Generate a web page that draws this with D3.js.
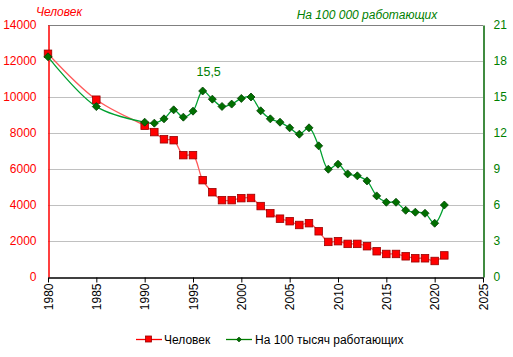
<!DOCTYPE html>
<html><head><meta charset="utf-8">
<script src="https://cdn.jsdelivr.net/npm/d3@7"></script>
<style>body{margin:0;background:#fff}svg{font-family:"Liberation Sans",Arial,sans-serif}</style>
</head><body><svg id="c" width="513" height="357"></svg>
<script>
const years = [1980,1985,1990,1991,1992,1993,1994,1995,1996,1997,1998,1999,2000,2001,2002,2003,2004,2005,2006,2007,2008,2009,2010,2011,2012,2013,2014,2015,2016,2017,2018,2019,2020,2021];
const people = [12400,9850,8400,8050,7650,7600,6770,6770,5380,4710,4270,4270,4380,4390,3940,3540,3240,3100,2890,2990,2540,1950,1990,1840,1840,1710,1430,1280,1280,1150,1040,1040,890,1200];
const per100k = [18.35,14.2,12.9,12.82,13.18,13.93,13.32,13.82,15.5,14.82,14.21,14.41,14.88,15.0,13.85,13.18,12.9,12.43,11.9,12.43,10.93,8.98,9.4,8.59,8.43,8.01,6.76,6.23,6.23,5.56,5.4,5.31,4.48,6.0];
const xTicks = [1980,1985,1990,1995,2000,2005,2010,2015,2020,2025];
const leftTicks = [0,2000,4000,6000,8000,10000,12000,14000];
const rightTicks = [0,3,6,9,12,15,18,21];
const leftTitle = "Человек";
const rightTitle = "На 100 000 работающих";
const legendNames = ["Человек","На 100 тысяч работающих"];
const annotation = {year:1996, value:15.5, text:"15,5"};

const svg = d3.select("#c");
const L=48, R=483, T=25, B=277;
const x = d3.scaleLinear().domain([1980,2025]).range([L,R]);
const yl = d3.scaleLinear().domain([0,14000]).range([B,T]);
const yr = d3.scaleLinear().domain([0,21]).range([B,T]);

// gridlines
svg.append("g").selectAll("line").data(leftTicks.filter(d=>d>0 && d<14000)).join("line")
  .attr("x1",L).attr("x2",R).attr("y1",d=>yl(d)).attr("y2",d=>yl(d))
  .attr("stroke","#c0c0c0").attr("stroke-width",1).attr("shape-rendering","crispEdges");
// top border
svg.append("line").attr("x1",L).attr("x2",R).attr("y1",T+0.5).attr("y2",T+0.5).attr("stroke","#808080");

// left axis
const gl = svg.append("g").attr("transform",`translate(${L+0.5},0)`)
  .call(d3.axisLeft(yl).tickValues(leftTicks).tickSize(0).tickPadding(12).tickFormat(d3.format("d")));
gl.select(".domain").attr("stroke","#ff0000").attr("stroke-width",1.5);
gl.selectAll("text").attr("fill","#ff0000").attr("font-size","12px").attr("font-family","Liberation Sans, Arial, sans-serif");

// right axis
const gr = svg.append("g").attr("transform",`translate(${R+0.5},0)`)
  .call(d3.axisRight(yr).tickValues(rightTicks).tickSize(0).tickPadding(10).tickFormat(d3.format("d")));
gr.select(".domain").attr("stroke","#006400").attr("stroke-width",1.5);
gr.selectAll("text").attr("fill","#008000").attr("font-size","12px").attr("font-family","Liberation Sans, Arial, sans-serif");

// bottom axis
const gb = svg.append("g").attr("transform",`translate(0,${B+0.5})`)
  .call(d3.axisBottom(x).tickValues(xTicks).tickSize(5).tickSizeOuter(0).tickFormat(d3.format("d")));
gb.select(".domain").attr("stroke","#000").attr("stroke-width",1.5);
gb.selectAll(".tick line").attr("stroke","#000");
gb.selectAll("text").attr("fill","#000").attr("font-size","12px").attr("font-family","Liberation Sans, Arial, sans-serif")
  .attr("transform","rotate(-90)").attr("text-anchor","end").attr("dy","0.35em").attr("x",-6).attr("y",0);

// lines
const lineL = d3.line().x((d,i)=>x(years[i])).y(d=>yl(d)).curve(d3.curveCatmullRom.alpha(0.5));
const lineR = d3.line().x((d,i)=>x(years[i])).y(d=>yr(d)).curve(d3.curveCatmullRom.alpha(0.5));
svg.append("path").attr("d",lineL(people)).attr("fill","none").attr("stroke","#ff5a5a").attr("stroke-width",1.3);
svg.append("path").attr("d",lineR(per100k)).attr("fill","none").attr("stroke","#00a030").attr("stroke-width",1.3);

// markers
svg.append("g").selectAll("rect").data(people).join("rect")
  .attr("x",(d,i)=>x(years[i])-3.75).attr("y",d=>yl(d)-3.75).attr("width",7.5).attr("height",7.5)
  .attr("fill","#ff0000").attr("stroke","#990000").attr("stroke-width",0.8);
const diamond = (cx,cy,s)=>`M${cx},${cy-s}L${cx+s},${cy}L${cx},${cy+s}L${cx-s},${cy}Z`;
svg.append("g").selectAll("path").data(per100k).join("path")
  .attr("d",(d,i)=>diamond(x(years[i]),yr(d),4))
  .attr("fill","#007000").attr("stroke","#004000").attr("stroke-width",0.8);

// annotation
svg.append("text").attr("x",x(annotation.year)+6).attr("y",yr(annotation.value)-15)
  .attr("text-anchor","middle").attr("fill","#008000").attr("font-size","12.5px").text(annotation.text);

// titles
svg.append("text").attr("x",36).attr("y",16).attr("fill","#ff0000").attr("font-size","12px").attr("font-style","italic").text(leftTitle);
svg.append("text").attr("x",367).attr("y",19).attr("text-anchor","middle").attr("fill","#008000").attr("font-size","12px").attr("font-style","italic").text(rightTitle);

// legend
const lg = svg.append("g");
lg.append("line").attr("x1",136).attr("x2",162).attr("y1",339.5).attr("y2",339.5).attr("stroke","#ff0000").attr("stroke-width",1.3);
lg.append("rect").attr("x",145.5).attr("y",336).attr("width",6).attr("height",6).attr("fill","#ff0000").attr("stroke","#990000").attr("stroke-width",0.8);
lg.append("text").attr("x",164).attr("y",343.5).attr("font-size","12px").attr("fill","#000").text(legendNames[0]);
lg.append("line").attr("x1",226).attr("x2",252).attr("y1",339.5).attr("y2",339.5).attr("stroke","#008000").attr("stroke-width",1.3);
lg.append("path").attr("d",diamond(239,339.5,2.5)).attr("fill","#007000").attr("stroke","#004000").attr("stroke-width",0.6);
lg.append("text").attr("x",255).attr("y",343.5).attr("font-size","12px").attr("fill","#000").text(legendNames[1]);
</script></body></html>
